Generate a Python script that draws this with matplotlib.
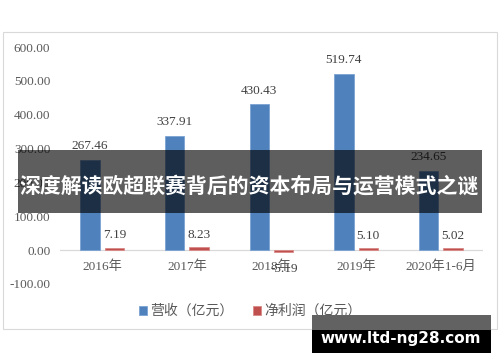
import matplotlib
matplotlib.use("Agg")
import matplotlib.pyplot as plt
from matplotlib.patches import Rectangle
from matplotlib.transforms import ScaledTranslation
import numpy as np

categories = ["2016年", "2017年", "2018年", "2019年", "2020年1-6月"]
revenue = [267.46, 337.91, 430.43, 519.74, 234.65]
net_profit = [7.19, 8.23, -5.19, 5.10, 5.02]
yticks = [-100, 0, 100, 200, 300, 400, 500, 600]

title = "深度解读欧超联赛背后的资本布局与运营模式之谜"
watermark = "www.ltd-ng28.com"

serif = ["Liberation Serif", "Noto Sans CJK SC"]
cjk = ["Noto Sans CJK SC", "DejaVu Sans"]

fig = plt.figure(figsize=(5.0, 3.62), dpi=100)
W, H = 500, 362

# outer chart frame
fig.patches.append(Rectangle((3 / W, 1 - 329 / H), 494 / W, 297 / H,
                             transform=fig.transFigure, fill=False,
                             edgecolor="#d9d9d9", linewidth=0.8))

ax = fig.add_axes([60 / W, 1 - 284 / H, 423 / W, 237 / H])
x = np.arange(len(categories))
bw = 0.23
off = 0.145
b1 = ax.bar(x - off, revenue, bw, color="#4f81bd", edgecolor="#7da3d3", linewidth=0.6, zorder=3)
b2 = ax.bar(x + off, net_profit, bw, color="#c0504d", edgecolor="#d98a88", linewidth=0.6, zorder=3)

for xi, v in zip(x, revenue):
    ax.annotate(f"{v:.2f}", (xi - off, v), xytext=(0, 10), textcoords="offset points",
                ha="center", va="center", fontsize=9.5, color="#404040", family=serif)
for xi, v in zip(x, net_profit):
    dy = 9 if v >= 0 else -12
    ax.annotate(f"{v:.2f}", (xi + off, v), xytext=(0, dy), textcoords="offset points",
                ha="center", va="center", fontsize=9.5, color="#404040", family=serif)

ax.set_xlim(-0.5, len(categories) - 0.5)
ax.set_ylim(-100, 600)
ax.set_yticks(yticks)
ax.set_yticklabels([f"{t:.2f}" for t in yticks], family=serif, fontsize=9.5, color="#595959")
ax.set_xticks(x)
ax.set_xticklabels(categories, family=serif, fontsize=9.5, color="#595959")
ax.tick_params(length=0)
ax.tick_params(axis="y", pad=7)
for s in ax.spines.values():
    s.set_visible(False)
ax.axhline(0, color="#d9d9d9", linewidth=0.9, zorder=2)
# category labels sit just below the zero line
for lbl in ax.get_xticklabels():
    lbl.set_transform(ax.transData + ScaledTranslation(0, -12 / 72, fig.dpi_scale_trans))
    lbl.set_position((lbl.get_position()[0], 0))
    lbl.set_va("center")

leg = fig.legend([b1, b2], ["营收（亿元）", "净利润（亿元）"], loc="center",
                 bbox_to_anchor=(0.5, 1 - 311 / H), ncol=2, frameon=False,
                 prop={"family": cjk, "size": 10}, handlelength=0.6, handleheight=0.6,
                 handletextpad=0.2, columnspacing=1.4)
for t in leg.get_texts():
    t.set_color("#595959")

# title banner
fig.patches.append(Rectangle((18 / W, 1 - 213 / H), 464 / W, 63 / H,
                             transform=fig.transFigure, facecolor="black",
                             alpha=0.63, edgecolor="none", zorder=10))
fig.text(249 / W, 1 - 186 / H, title, ha="center", va="center", color="white",
         fontsize=15.0, fontweight="bold", family=cjk, zorder=11)

# watermark box
fig.patches.append(Rectangle((312 / W, 1 - 330 / H), 179 / W, 15 / H,
                             transform=fig.transFigure, facecolor="#626262",
                             edgecolor="none", zorder=10))
fig.patches.append(Rectangle((312 / W, 1 - 353 / H), 179 / W, 23 / H,
                             transform=fig.transFigure, facecolor="black",
                             edgecolor="none", zorder=10))
fig.text(401 / W, 1 - 338 / H, watermark, ha="center", va="center", color="white",
         fontsize=11, fontweight="bold", family="DejaVu Sans", zorder=11)

fig.savefig("out.png", dpi=100)
